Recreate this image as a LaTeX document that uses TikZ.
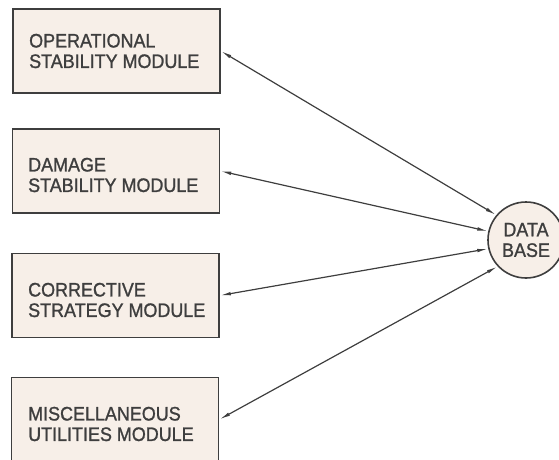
\documentclass[tikz,border=0pt]{standalone}
\usepackage{fontspec}
\setmainfont{Liberation Sans}
\newfontfamily\lettering{Liberation Sans}[FakeStretch=0.92, FakeBold=1.2]
\usetikzlibrary{positioning, arrows.meta}
\definecolor{inkgray}{RGB}{62,62,62}
\definecolor{paper}{RGB}{247,239,232}

\begin{document}
\begin{tikzpicture}[x=1pt, y=-1pt]
            \useasboundingbox (0,0) rectangle (559,460);
            \tikzset{
                module/.style={draw=inkgray, fill=paper, line width=1.6pt, minimum width=207pt,
                               minimum height=84pt, inner sep=0pt},
                modtext/.style={anchor=west, align=left, text=inkgray, inner sep=0pt,
                                font=\lettering\fontsize{19.5}{20.5}\selectfont},
                link/.style={draw=inkgray, line width=1.2pt,
                             {Latex[length=11pt,width=3.5pt]}-{Latex[length=11pt,width=3.5pt]}}
            }

            % Modulos
            \node[module] (opmod) at (116.5,51) {};
            \node[modtext] (optxt) at (29,51) {OPERATIONAL\\STABILITY MODULE};

            \node[module] (dmgmod) at (116,171) {};
            \node[modtext] (dmgtxt) at (28,175) {DAMAGE\\STABILITY MODULE};

            \node[module] (cormod) at (115.5,295.5) {};
            \node[modtext] (cortxt) at (28,300) {CORRECTIVE\\STRATEGY MODULE};

            \node[module] (miscmod) at (115,419.5) {};
            \node[modtext] (misctxt) at (28,424) {MISCELLANEOUS\\UTILITIES MODULE};

            % Base de datos
            \node[draw=inkgray, fill=paper, circle, line width=1.6pt, minimum size=76pt] (db) at (526,240) {};
            \node[align=center, text=inkgray, inner sep=0pt, font=\lettering\fontsize{19.5}{20.5}\selectfont] (dbtxt) at (db) {DATA\\BASE};

            % Enlaces
            \draw[link] (opmod.east) -- (db.140);
            \draw[link] (dmgmod.east) -- (db.167);
            \draw[link] (cormod.east) -- (db.193);
            \draw[link] (miscmod.east) -- (db.223);
        \end{tikzpicture}
\end{document}
